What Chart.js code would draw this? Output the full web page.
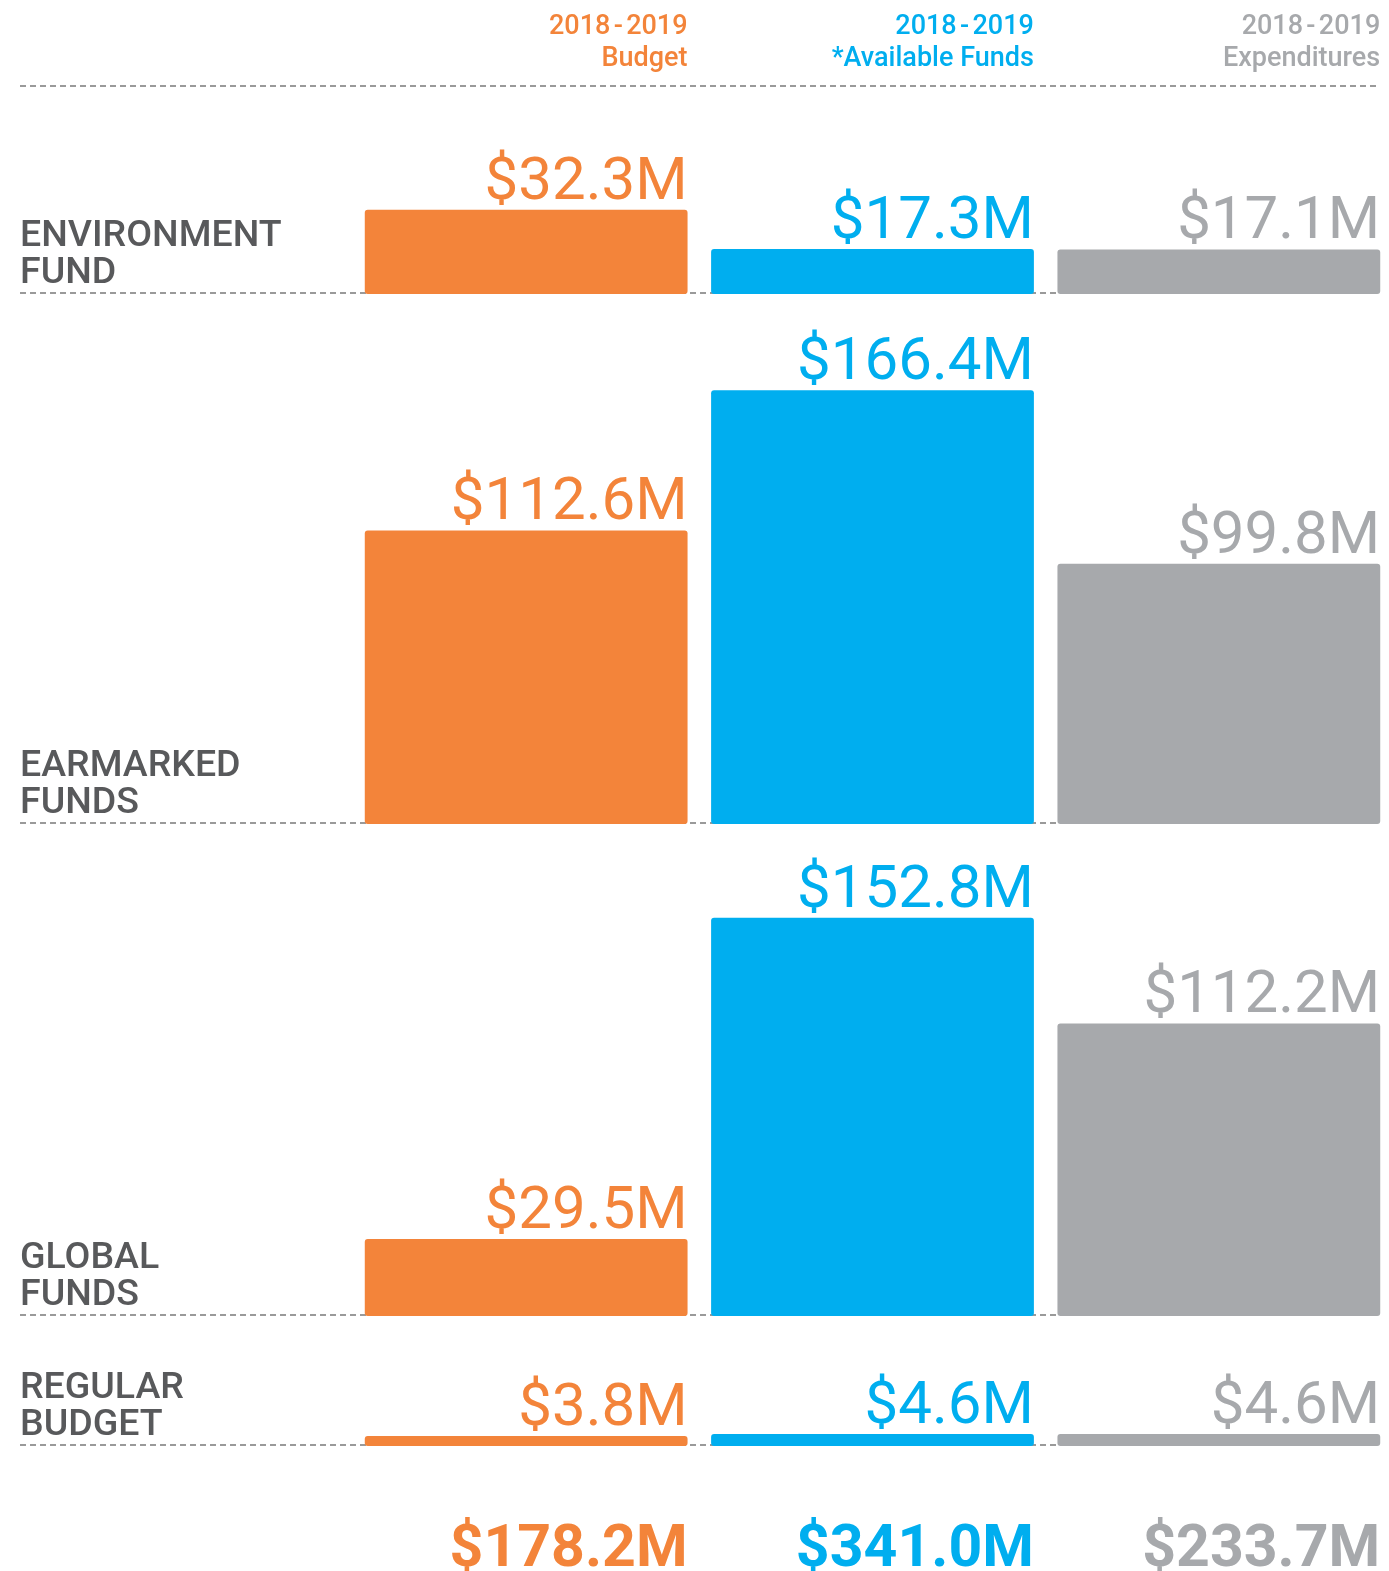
<!DOCTYPE html>
<html><head><meta charset="utf-8">
<script src="https://cdn.jsdelivr.net/npm/chart.js@4.4.1/dist/chart.umd.min.js"></script>
<style>
html,body{margin:0;padding:0;background:#fff;overflow:hidden;width:1389px;height:1571px;position:relative;}
canvas{position:absolute;left:0;display:block;}
</style></head><body>
<canvas id="r0"></canvas>
<canvas id="r1"></canvas>
<canvas id="r2"></canvas>
<canvas id="r3"></canvas>
<script>
// ---- data ----
const categories = ['2018-2019 Budget', '2018-2019 *Available Funds', '2018-2019 Expenditures'];
const headerYear = '2018 - 2019';
const headerNames = ['Budget', '*Available Funds', 'Expenditures'];
const rowLabels = [['ENVIRONMENT', 'FUND'], ['EARMARKED', 'FUNDS'], ['GLOBAL', 'FUNDS'], ['REGULAR', 'BUDGET']];
const environmentFund = [32.3, 17.3, 17.1];
const earmarkedFunds = [112.6, 166.4, 99.8];
const globalFunds = [29.5, 152.8, 112.2];
const regularBudget = [3.8, 4.6, 4.6];
const totals = [178.2, 341.0, 233.7];
const colors = ['#F3843A', '#00AEEF', '#A7A9AC'];

// ---- layout ----
const PX_PER_M = 2.607;
const CANVAS_W = 1392;
const rows = [
  {id: 'r0', labels: rowLabels[0], values: environmentFund, top: 0, height: 294, padTop: 90, padBottom: 0, header: true},
  {id: 'r1', labels: rowLabels[1], values: earmarkedFunds, top: 294, height: 530, padTop: 0, padBottom: 0},
  {id: 'r2', labels: rowLabels[2], values: globalFunds, top: 824, height: 492, padTop: 0, padBottom: 0},
  {id: 'r3', labels: rowLabels[3], values: regularBudget, top: 1316, height: 255, padTop: 0, padBottom: 125, totals: true}
];
const fmt = v => '$' + v.toFixed(1) + 'M';

function dashed(ctx, y) {
  ctx.save();
  ctx.strokeStyle = '#9a9a9a';
  ctx.lineWidth = 2;
  ctx.setLineDash([6, 4]);
  ctx.beginPath();
  ctx.moveTo(20, y);
  ctx.lineTo(1380, y);
  ctx.stroke();
  ctx.restore();
}

function build() {
  rows.forEach(row => {
    const cv = document.getElementById(row.id);
    cv.width = CANVAS_W; cv.height = row.height;
    cv.style.width = CANVAS_W + 'px'; cv.style.height = row.height + 'px';
    cv.style.top = row.top + 'px';
    const areaH = row.height - row.padTop - row.padBottom;
    const decor = {
      id: 'decor' + row.id,
      beforeDatasetsDraw(chart) {
        const ctx = chart.ctx, ca = chart.chartArea;
        dashed(ctx, ca.bottom - 1);
        if (row.header) dashed(ctx, 86);
      },
      afterDatasetsDraw(chart) {
        const ctx = chart.ctx, ca = chart.chartArea;
        const els = chart.getDatasetMeta(0).data;
        ctx.save();
        // row label
        ctx.fillStyle = '#58595B';
        ctx.font = '500 37.5px Roboto';
        ctx.textAlign = 'left';
        ctx.textBaseline = 'alphabetic';
        const n = row.labels.length;
        row.labels.forEach((t, i) => {
          ctx.fillText(t, 20, ca.bottom - 11 - 37 * (n - 1 - i));
        });
        // value labels
        ctx.textAlign = 'right';
        els.forEach((el, i) => {
          const right = el.x + el.width / 2;
          ctx.fillStyle = colors[i];
          ctx.font = '400 60px Roboto';
          ctx.fillText(fmt(row.values[i]), right, el.y - 11);
          if (row.header) {
            ctx.font = '500 27px Roboto';
            ctx.save();
            if ('wordSpacing' in ctx) ctx.wordSpacing = '-3.4px';
            ctx.fillText(headerYear, right, 34);
            ctx.restore();
            ctx.fillText(headerNames[i], right, 66);
          }
          if (row.totals) {
            ctx.font = '700 59px Roboto';
            ctx.fillText(fmt(totals[i]), right, 1566 - row.top);
          }
        });
        ctx.restore();
      }
    };
    new Chart(cv, {
      type: 'bar',
      data: {
        labels: categories,
        datasets: [{
          data: row.values,
          backgroundColor: colors,
          borderRadius: 3,
          borderSkipped: false,
          barPercentage: 0.932,
          categoryPercentage: 1
        }]
      },
      options: {
        responsive: false,
        animation: false,
        devicePixelRatio: 1,
        layout: {padding: {left: 353, right: 0, top: row.padTop, bottom: row.padBottom}},
        plugins: {legend: {display: false}, tooltip: {enabled: false}},
        scales: {
          x: {display: false, grid: {display: false}},
          y: {display: false, min: 0, max: areaH / PX_PER_M, grid: {display: false}}
        }
      },
      plugins: [decor]
    });
  });
}
const fontLoads = ['400 60px Roboto', '500 37.5px Roboto', '700 59px Roboto', '500 27px Roboto'].map(f => document.fonts.load(f).catch(() => null));
Promise.all(fontLoads).then(build, build);
</script>
</body></html>
